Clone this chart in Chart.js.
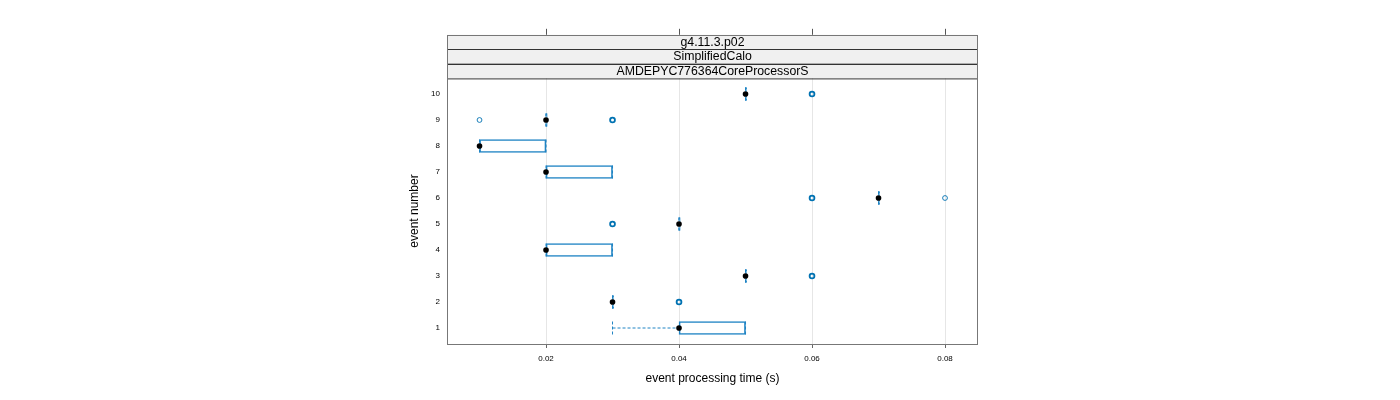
<!DOCTYPE html>
<html><head><meta charset="utf-8">
<script src="https://cdn.jsdelivr.net/npm/chart.js@4"></script>
<style>html,body{margin:0;padding:0;background:#fff}canvas{display:block}</style>
</head><body>
<canvas id="c" width="1400" height="400"></canvas>
<script>
// ---- data ----
const events       = [1, 2, 3, 4, 5, 6, 7, 8, 9, 10];
const medians      = [0.04, 0.03, 0.05, 0.02, 0.04, 0.07, 0.02, 0.01, 0.02, 0.05];
const q1           = [0.04, 0.03, 0.05, 0.02, 0.04, 0.07, 0.02, 0.01, 0.02, 0.05];
const q3           = [0.05, 0.03, 0.05, 0.03, 0.04, 0.07, 0.03, 0.02, 0.02, 0.05];
const whiskerLow   = [0.03, 0.03, 0.05, 0.02, 0.04, 0.07, 0.02, 0.01, 0.02, 0.05];
const whiskerHigh  = [0.05, 0.03, 0.05, 0.03, 0.04, 0.07, 0.03, 0.02, 0.02, 0.05];
const outlierEvents = [2, 3, 5, 6, 6, 9, 9, 10];
const outlierValues = [0.04, 0.06, 0.03, 0.06, 0.08, 0.01, 0.03, 0.06];
const outlierCounts = [3, 3, 3, 3, 1, 1, 3, 3];
const xTicks      = [0.02, 0.04, 0.06, 0.08];
const xTickLabels = ['0.02', '0.04', '0.06', '0.08'];
const yTicks      = events;
const stripLabels = ['g4.11.3.p02', 'SimplifiedCalo', 'AMDEPYC776364CoreProcessorS'];
const xTitle = 'event processing time (s)';
const yTitle = 'event number';

// ---- style ----
const BLUE = '#0072b2';
const BOXBLUE = '#1f84c4';
const FONT = '"Liberation Sans", Arial, Helvetica, sans-serif';
const STAPLE = 0.25;

const boxData = events.map((e, i) => ({ y: e, x: [q1[i], q3[i]] }));
const whiskerData = [];
events.forEach((e, i) => {
  const gap = () => ({ x: null, y: null });
  whiskerData.push(
    { x: whiskerLow[i], y: e - STAPLE }, { x: whiskerLow[i], y: e + STAPLE }, gap(),
    { x: whiskerLow[i], y: e }, { x: q1[i], y: e }, gap(),
    { x: q3[i], y: e }, { x: whiskerHigh[i], y: e }, gap(),
    { x: whiskerHigh[i], y: e - STAPLE }, { x: whiskerHigh[i], y: e + STAPLE }, gap()
  );
});
const medianData = events.map((e, i) => ({ x: medians[i], y: e }));
const outlierData = outlierEvents.map((e, i) => ({ x: outlierValues[i], y: e }));

const decor = {
  id: 'decor',
  afterDraw(chart) {
    const { ctx, chartArea: a, scales } = chart;
    ctx.save();
    // strips
    const stripH = 14.4;
    const top0 = a.top - stripH * stripLabels.length;
    ctx.font = '12.3px ' + FONT;
    ctx.textAlign = 'center';
    ctx.textBaseline = 'middle';
    stripLabels.forEach((lab, k) => {
      const y0 = top0 + k * stripH;
      ctx.fillStyle = '#f0f0f0';
      ctx.fillRect(a.left, y0, a.right - a.left, stripH);
      ctx.strokeStyle = '#333';
      ctx.strokeRect(a.left + 0.5, Math.round(y0) + 0.5, a.right - a.left - 1, stripH);
      ctx.fillStyle = '#000';
      ctx.fillText(lab, (a.left + a.right) / 2, y0 + stripH / 2 + 0.5);
    });
    // panel border
    ctx.strokeStyle = '#777';
    ctx.lineWidth = 1;
    ctx.strokeRect(a.left + 0.5, Math.round(top0) + 0.5, a.right - a.left - 1, a.bottom - Math.round(top0));
    // top ticks
    ctx.strokeStyle = '#555';
    ctx.beginPath();
    xTicks.forEach(v => {
      const px = Math.round(scales.x.getPixelForValue(v)) + 0.5;
      ctx.moveTo(px, top0);
      ctx.lineTo(px, top0 - 6);
    });
    ctx.stroke();
    ctx.restore();
  }
};

new Chart(document.getElementById('c'), {
  type: 'scatter',
  data: {
    datasets: [
      {
        type: 'bar', indexAxis: 'y', data: boxData,
        backgroundColor: 'rgba(0,0,0,0)', borderColor: BOXBLUE, borderWidth: 1,
        borderSkipped: false, barThickness: 13, minBarLength: 1.2, order: 3
      },
      {
        type: 'line', data: whiskerData, borderColor: BOXBLUE, borderWidth: 1,
        borderDash: [3, 2], pointRadius: 0, spanGaps: false, fill: false, order: 2
      },
      {
        type: 'scatter', data: outlierData, pointStyle: 'circle', pointRadius: 2.4,
        pointBackgroundColor: 'rgba(255,255,255,0)', pointBorderColor: BLUE,
        pointBorderWidth: ctx => (outlierCounts[ctx.dataIndex] > 1 ? 1.8 : 0.9), order: 1
      },
      {
        type: 'scatter', data: medianData, pointStyle: 'circle', pointRadius: 2.8,
        pointBackgroundColor: '#000', pointBorderColor: '#000', pointBorderWidth: 0, order: 0
      }
    ]
  },
  options: {
    responsive: false, animation: false, devicePixelRatio: 1,
    layout: { padding: { left: 407, right: 422, top: 78, bottom: 14 } },
    plugins: { legend: { display: false }, tooltip: { enabled: false } },
    scales: {
      x: {
        type: 'linear', position: 'bottom', min: 0.00511, max: 0.08496, offset: false,
        afterBuildTicks: s => { s.ticks = xTicks.map(v => ({ value: v })); },
        afterFit: s => { s.height = 42; },
        ticks: {
          font: { family: FONT, size: 8 }, color: '#000', padding: 6, maxRotation: 0,
          callback: (v) => xTickLabels[xTicks.indexOf(v)]
        },
        grid: { color: '#e6e6e6', lineWidth: 1, drawTicks: true, tickLength: 4, tickColor: '#666' },
        border: { display: false },
        title: { display: true, text: xTitle, color: '#000', font: { family: FONT, size: 12 }, padding: { top: 6, bottom: 0 } }
      },
      y: {
        type: 'linear', position: 'left', min: 0.385, max: 10.615, offset: false,
        afterBuildTicks: s => { s.ticks = yTicks.map(v => ({ value: v })); },
        afterFit: s => { s.width = 40; },
        ticks: { font: { family: FONT, size: 8 }, color: '#000', padding: 7, callback: v => String(v) },
        grid: { display: false, drawTicks: false },
        border: { display: false },
        title: { display: true, text: yTitle, color: '#000', font: { family: FONT, size: 12 }, padding: 0 }
      }
    }
  },
  plugins: [decor]
});
</script>
</body></html>
